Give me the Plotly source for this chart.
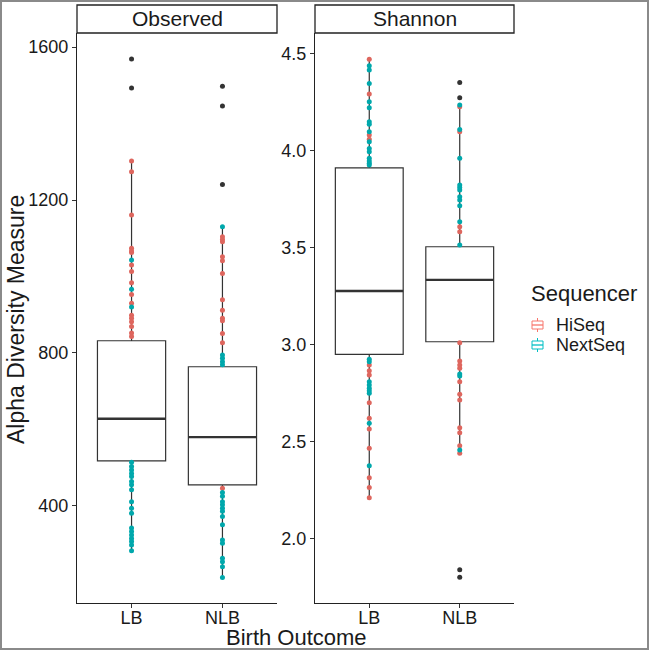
import plotly.graph_objects as go

categories = ["LB", "NLB"]
panels = ["Observed", "Shannon"]

# ---- Observed: points by sequencer
obs_lb_hiseq = [1302, 1274, 1161, 1074, 1067, 1063, 1030, 1013, 984, 953, 930,
                899, 891, 882, 869, 852, 843]
obs_lb_nextseq = [1043, 967, 920, 514, 503, 494, 485, 477, 464, 455, 442, 411,
                  394, 381, 342, 333, 324, 315, 307, 298, 283]
obs_nlb_hiseq = [1104, 1097, 1091, 1052, 1041, 1008, 939, 912, 891, 884, 851,
                 827, 446]
obs_nlb_nextseq = [1130, 795, 786, 777, 769, 435, 425, 411, 403, 394, 386, 372,
                   351, 311, 302, 263, 254, 241, 213]
obs_lb_outliers = [1569, 1493]
obs_nlb_outliers = [1498, 1446, 1241]

# ---- Shannon
sha_lb_hiseq = [4.47, 4.29, 4.079, 4.057, 2.893, 2.864, 2.842, 2.699, 2.619,
                2.563, 2.464, 2.312, 2.261, 2.209]
sha_lb_nextseq = [4.436, 4.414, 4.345, 4.25, 4.22, 4.147, 4.135, 4.096, 4.044,
                  4.01, 3.993, 3.959, 3.945, 3.933, 3.924, 2.923, 2.91, 2.807,
                  2.79, 2.773, 2.76, 2.747, 2.593, 2.374]
sha_nlb_hiseq = [4.225, 4.096, 3.606, 3.58, 3.008, 2.914, 2.893, 2.876, 2.807,
                 2.742, 2.713, 2.57, 2.544, 2.477, 2.438]
sha_nlb_nextseq = [4.234, 4.108, 3.959, 3.821, 3.809, 3.795, 3.761, 3.744,
                   3.714, 3.632, 3.512, 2.847, 2.837, 2.455]
sha_lb_outliers = []
sha_nlb_outliers = [4.35, 4.271, 1.837, 1.799]

# ---- box statistics (LB, NLB)
obs_q1 = [518, 455]
obs_median = [628, 580]
obs_q3 = [832, 764]
obs_lower = [283, 213]
obs_upper = [1302, 1130]

sha_q1 = [2.948, 3.013]
sha_median = [3.275, 3.332]
sha_q3 = [3.91, 3.503]
sha_lower = [2.209, 2.438]
sha_upper = [4.47, 4.234]

obs_ticks = [400, 800, 1200, 1600]
sha_ticks = [2.0, 2.5, 3.0, 3.5, 4.0, 4.5]

sequencers = ["HiSeq", "NextSeq"]

HISEQ = "#F8766D"
NEXTSEQ = "#00BFC4"
PT_HISEQ = "rgb(222,102,94)"
PT_NEXT = "rgb(0,168,172)"
FONT = "Liberation Sans, Arial, sans-serif"
TXT = "#1a1a1a"
BOX_W = 0.75

W, H = 649, 650
ML, MR, MT, MB = 77, 135, 33, 47
PW = W - ML - MR
PH = H - MT - MB


def px_x(p):
    return (p - ML) / PW


def px_y(p):
    return 1 - (p - MT) / PH


fig = go.Figure()

panel_data = [
    ("x", "y", [(obs_lb_hiseq, obs_lb_nextseq, obs_lb_outliers),
                (obs_nlb_hiseq, obs_nlb_nextseq, obs_nlb_outliers)],
     obs_q1, obs_median, obs_q3, obs_lower, obs_upper),
    ("x2", "y2", [(sha_lb_hiseq, sha_lb_nextseq, sha_lb_outliers),
                  (sha_nlb_hiseq, sha_nlb_nextseq, sha_nlb_outliers)],
     sha_q1, sha_median, sha_q3, sha_lower, sha_upper),
]

shapes = []
for xa, ya, groups, q1, med, q3, lo, hi in panel_data:
    for cat, (hs, ns, outl) in zip(categories, groups):
        fig.add_trace(go.Scatter(x=[cat] * len(hs), y=hs, mode="markers",
                                 marker=dict(color=PT_HISEQ, size=5),
                                 xaxis=xa, yaxis=ya, showlegend=False, hoverinfo="y"))
        fig.add_trace(go.Scatter(x=[cat] * len(ns), y=ns, mode="markers",
                                 marker=dict(color=PT_NEXT, size=5),
                                 xaxis=xa, yaxis=ya, showlegend=False, hoverinfo="y"))
    fig.add_trace(go.Box(x=categories, q1=q1, median=med, q3=q3,
                         lowerfence=lo, upperfence=hi,
                         boxpoints=False, width=BOX_W, whiskerwidth=0,
                         fillcolor="white", line=dict(color="#333333", width=1.2),
                         xaxis=xa, yaxis=ya, showlegend=False))
    for cat, (hs, ns, outl) in zip(categories, groups):
        if outl:
            fig.add_trace(go.Scatter(x=[cat] * len(outl), y=outl, mode="markers",
                                     marker=dict(color="#333333", size=5),
                                     xaxis=xa, yaxis=ya, showlegend=False, hoverinfo="y"))
    # thicker median line (ggplot style)
    for i, m in enumerate(med):
        shapes.append(dict(type="line", xref=xa, yref=ya,
                           x0=i - BOX_W / 2, x1=i + BOX_W / 2, y0=m, y1=m,
                           line=dict(color="#333333", width=2.4)))

axis_common = dict(showline=True, linecolor="#222222", linewidth=1.2,
                   ticks="outside", ticklen=4, tickcolor="#333333",
                   showgrid=False, zeroline=False,
                   tickfont=dict(family=FONT, size=18, color=TXT))

d1 = [0, px_x(277)]
d2 = [px_x(315), 1]
fig.update_layout(
    width=W, height=H,
    margin=dict(l=ML, r=MR, t=MT, b=MB),
    paper_bgcolor="white", plot_bgcolor="white",
    font=dict(family=FONT, color=TXT),
    xaxis=dict(domain=d1, type="category", categoryarray=categories,
               range=[-0.6, 1.6], ticklabelstandoff=-6, **axis_common),
    xaxis2=dict(domain=d2, type="category", categoryarray=categories,
                range=[-0.6, 1.6], anchor="y2", ticklabelstandoff=-6, **axis_common),
    yaxis=dict(range=[146, 1637], tickvals=obs_ticks, anchor="x", **axis_common),
    yaxis2=dict(range=[1.666, 4.605], tickvals=sha_ticks, ticktext=[f"{v:.1f}" for v in sha_ticks],
                anchor="x2", **axis_common),
    showlegend=False,
)

annotations = []
for dom, label in [(d1, panels[0]), (d2, panels[1])]:
    shapes.append(dict(type="rect", xref="paper", yref="paper",
                       x0=dom[0], x1=dom[1], y0=px_y(33), y1=px_y(5),
                       line=dict(color="#222222", width=1.3), fillcolor="white"))
    annotations.append(dict(text=label, xref="paper", yref="paper",
                            x=(dom[0] + dom[1]) / 2, y=px_y(19), showarrow=False,
                            xanchor="center", yanchor="middle",
                            font=dict(family=FONT, size=21, color=TXT)))

# legend (ggplot style box glyphs)
annotations.append(dict(text="Sequencer", xref="paper", yref="paper",
                        x=px_x(529), y=px_y(293), showarrow=False,
                        xanchor="left", yanchor="middle",
                        font=dict(family=FONT, size=22, color=TXT)))
for name, col, row in zip(sequencers, [HISEQ, NEXTSEQ], [325, 345]):
    gx0, gx1, gc = 532, 543, 537.5
    shapes.append(dict(type="line", xref="paper", yref="paper",
                       x0=px_x(gc), x1=px_x(gc), y0=px_y(row - 7), y1=px_y(row + 7),
                       line=dict(color=col, width=1)))
    shapes.append(dict(type="rect", xref="paper", yref="paper",
                       x0=px_x(gx0), x1=px_x(gx1), y0=px_y(row - 4), y1=px_y(row + 4),
                       line=dict(color=col, width=1), fillcolor="white"))
    shapes.append(dict(type="line", xref="paper", yref="paper",
                       x0=px_x(gx0), x1=px_x(gx1), y0=px_y(row), y1=px_y(row),
                       line=dict(color=col, width=1.3)))
    annotations.append(dict(text=name, xref="paper", yref="paper",
                            x=px_x(554), y=px_y(row), showarrow=False,
                            xanchor="left", yanchor="middle",
                            font=dict(family=FONT, size=18, color=TXT)))

# outer frame
shapes.append(dict(type="rect", xref="paper", yref="paper",
                   x0=px_x(1), x1=px_x(648), y0=px_y(649), y1=px_y(1),
                   line=dict(color="#8a8a8a", width=2), fillcolor="rgba(0,0,0,0)"))
annotations.append(dict(text="Alpha Diversity Measure", xref="paper", yref="paper",
                        x=px_x(16), y=px_y(320), textangle=-90, showarrow=False,
                        xanchor="center", yanchor="middle",
                        font=dict(family=FONT, size=23, color=TXT)))
annotations.append(dict(text="Birth Outcome", xref="paper", yref="paper",
                        x=px_x(296), y=px_y(637), showarrow=False,
                        xanchor="center", yanchor="middle",
                        font=dict(family=FONT, size=22, color=TXT)))
fig.update_layout(shapes=shapes, annotations=annotations)

fig.write_html("out.html", config={"displayModeBar": False},
               post_script="document.body.style.margin='0px';document.body.style.overflow='hidden';")
